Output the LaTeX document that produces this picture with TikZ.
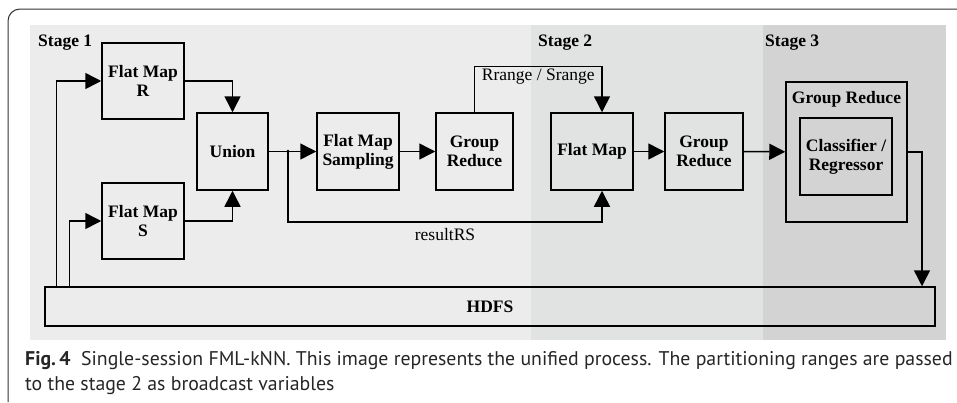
\documentclass[tikz,border=0pt]{standalone}
\usepackage{fontspec}
\setmainfont{Liberation Serif}
\newfontfamily\capfont{PT Sans}
\usetikzlibrary{arrows.meta}
\definecolor{stageone}{HTML}{ECECEC}
\definecolor{stagetwo}{HTML}{E1E2E2}
\definecolor{stagethree}{HTML}{D3D3D3}
\begin{document}
\begin{tikzpicture}[x=1pt, y=-1pt,
    blk/.style={draw, line width=1.5pt, align=center, font=\fontsize{17.5}{19}\selectfont\bfseries},
    arr/.style={line width=1.5pt, -{Triangle[length=16pt, width=16pt]}},
    lbl/.style={font=\fontsize{17.5}{19}\selectfont\bfseries, anchor=west, inner sep=0pt},
    txt/.style={font=\fontsize{17.5}{19}\selectfont, inner sep=2pt}]
  \useasboundingbox (0,0) rectangle (957,402);
  \fill[stageone] (30,25) rectangle (531,340);
  \fill[stagetwo] (531,25) rectangle (763,340);
  \fill[stagethree] (763,25) rectangle (946,340);
  \draw[line width=1pt, black!80, rounded corners=12pt] (8,402) -- (8,9) -- (957,9);
  \node[lbl] (st1) at (38,43) {Stage 1};
  \node[lbl] (st2) at (538,43) {Stage 2};
  \node[lbl] (st3) at (765,43) {Stage 3};
  \node[blk, minimum width=82, minimum height=76] (fmR) at (143,81) {Flat Map\\R};
  \node[blk, minimum width=82, minimum height=76] (fmS) at (143,221) {Flat Map\\S};
  \node[blk, minimum width=71, minimum height=77] (union) at (232.5,151.5) {Union};
  \node[blk, minimum width=82, minimum height=77] (samp) at (358,151.5) {Flat Map\\Sampling};
  \node[blk, minimum width=77, minimum height=77] (gr1) at (474.5,151.5) {Group\\Reduce};
  \node[blk, minimum width=82, minimum height=77] (fm2) at (592,151.5) {Flat Map};
  \node[blk, minimum width=78, minimum height=77] (gr2) at (704,151.5) {Group\\Reduce};
  \node[blk, minimum width=121, minimum height=140] (outer) at (846.5,152) {};
  \node[blk, draw=none, anchor=north, inner sep=0pt] (outlbl) at (846.5,91) {Group Reduce};
  \node[blk, minimum width=92, minimum height=77] (clf) at (846,156.5) {Classifier /\\Regressor};
  \node[blk, minimum width=890, minimum height=39] (hdfs) at (490,306.5) {HDFS};
  \draw[arr] ([xshift=12]hdfs.north west) |- (fmR.west);
  \draw[arr] ([xshift=25]hdfs.north west) |- (fmS.west);
  \draw[arr] (fmR.east) -| (union.north);
  \draw[arr] (fmS.east) -| (union.south);
  \draw[arr] (union) -- (samp);
  \draw[arr] (samp) -- (gr1);
  \draw[arr] (fm2) -- (gr2);
  \draw[arr] (gr2) -- (outer);
  \coordinate (split) at (288,151.5);
  \fill (split) circle (1.8);
  \draw[arr] (split) -- ++(0,70.5) -| ([xshift=10]fm2.south)
    node[txt, pos=0.25, below=4pt] (rs) {resultRS};
  \draw[arr] (gr1.north) -- ++(0,-46) -| ([xshift=10]fm2.north)
    node[txt, pos=0.25, below] (rng) {Rrange / Srange};
  \coordinate (out) at (922,152);
  \draw[arr] (outer.east) -- (out) -- (out |- hdfs.north);
  \node[anchor=north west, align=left, inner sep=0pt, text=black!85,
    font=\capfont\fontsize{19.8}{25}\selectfont] (cap) at (25,351)
    {{\bfseries Fig.\,4}\ \ Single-session FML-kNN. This image represents the unified process. The partitioning ranges are passed\\
     to the stage 2 as broadcast variables};
\end{tikzpicture}
\end{document}
